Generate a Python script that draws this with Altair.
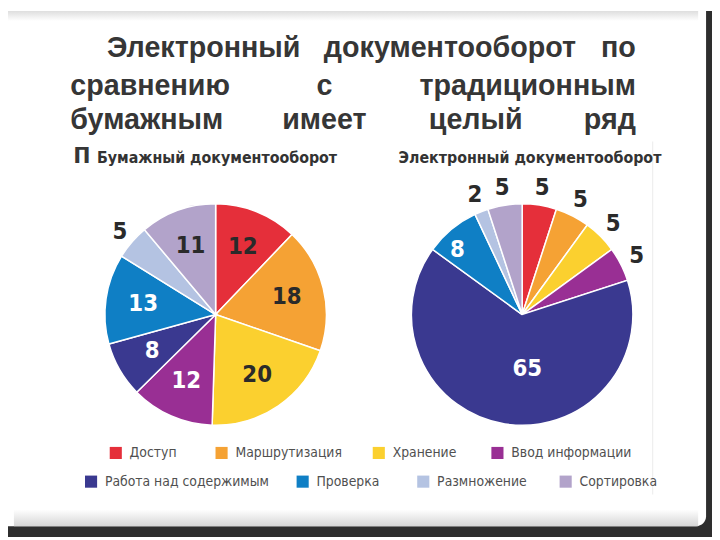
import altair as alt
import pandas as pd

# ---------------- data ----------------
categories = ["Доступ", "Маршрутизация", "Хранение", "Ввод информации",
              "Работа над содержимым", "Проверка", "Размножение", "Сортировка"]
paper_values = [12, 18, 20, 12, 8, 13, 5, 11]
electronic_values = [5, 5, 5, 5, 65, 8, 2, 5]
colors = ["#e52f3a", "#f5a234", "#fbd02f", "#992f94",
          "#3a3990", "#0f7fc5", "#b4c3e2", "#b2a3ca"]
pie_names = ["Бумажный документооборот", "Электронный документооборот"]
title_lines = [
    ["Электронный", "документооборот", "по"],
    ["сравнению", "с", "традиционным"],
    ["бумажным", "имеет", "целый", "ряд"],
    ["п"],
]

rows = []
for i, c in enumerate(categories):
    rows.append({"pie": pie_names[0], "cat": c, "order": i, "value": paper_values[i]})
    rows.append({"pie": pie_names[1], "cat": c, "order": i, "value": electronic_values[i]})
df = pd.DataFrame(rows)
leg_df = pd.DataFrame({"cat": categories})
one = pd.DataFrame({"a": [0]})

# ---------------- layout helpers ----------------
OX, OY = 8, 8
def px(x):
    return x - OX
def py(y):
    return y - OY

NARROW = "Liberation Sans Narrow, DejaVu Sans Condensed, sans-serif"
SANS = "Liberation Sans, Arial, sans-serif"
color_scale = alt.Scale(domain=categories, range=colors)

layers = []

# slide background / frame
layers.append(alt.Chart(one).mark_rect(color="#2e2e2e").encode(
    x=alt.value(0), x2=alt.value(712), y=alt.value(0), y2=alt.value(532)))
layers.append(alt.Chart(one).mark_rect(color="#ffffff", cornerRadius=10).encode(
    x=alt.value(-20), x2=alt.value(px(714)), y=alt.value(-20), y2=alt.value(py(529))))
layers.append(alt.Chart(one).mark_rect(color={
    "gradient": "linear", "x1": 0, "y1": 0, "x2": 0, "y2": 1,
    "stops": [{"offset": 0, "color": "#dedede"}, {"offset": 1, "color": "#ffffff"}]}).encode(
    x=alt.value(0), x2=alt.value(px(706)), y=alt.value(0), y2=alt.value(10)))
layers.append(alt.Chart(one).mark_rect(color={
    "gradient": "linear", "x1": 0, "y1": 0, "x2": 0, "y2": 1,
    "stops": [{"offset": 0, "color": "#ffffff"}, {"offset": 1, "color": "#d6d6d6"}]}).encode(
    x=alt.value(px(14)), x2=alt.value(px(706)), y=alt.value(py(512)), y2=alt.value(py(529))))

# title words (justified text)
title_pos = [
    [(108, "left"), (455, "center"), (643, "right")],
    [(71, "left"), (328, "center"), (643, "right")],
    [(71, "left"), (328, "center"), (481, "center"), (643, "right")],
    [(74, "left")],
]
title_base = [55, 93, 127, 162]
for li, words in enumerate(title_lines):
    for wi, w in enumerate(words):
        xpos, al = title_pos[li][wi]
        layers.append(alt.Chart(one).mark_text(
            font=SANS, fontSize=29, fontWeight="bold", color="#363636",
            align=al, baseline="alphabetic").encode(
            x=alt.value(px(xpos)), y=alt.value(py(title_base[li])), text=alt.value(w)))

# image region (covers the rest of the 4th line)
layers.append(alt.Chart(one).mark_rect(color="#ffffff").encode(
    x=alt.value(px(92)), x2=alt.value(px(660)), y=alt.value(py(140)), y2=alt.value(py(497))))
layers.append(alt.Chart(one).mark_rule(color="#ebebeb", strokeWidth=1).encode(
    x=alt.value(px(660)), y=alt.value(py(140)), y2=alt.value(py(497))))

# subtitles
sub_pos = [(98, 157), (403, 157)]
for n, (sx, sy) in zip(pie_names, sub_pos):
    layers.append(alt.Chart(one).mark_text(
        font=NARROW, fontSize=16, fontWeight="bold", color="#333333",
        align="left", baseline="middle").encode(
        x=alt.value(px(sx)), y=alt.value(py(sy)), text=alt.value(n)))

# pies
R = 112
centers = {pie_names[0]: (218, 315), pie_names[1]: (528, 315)}
label_sets = {
    pie_names[0]: [
        (["Доступ", "Маршрутизация", "Хранение", "Сортировка"], 74, "#2a2a2a", 0),
        (["Ввод информации", "Работа над содержимым", "Проверка"], 74, "#ffffff", 0),
        (["Размножение"], 128, "#2a2a2a", 0),
    ],
    pie_names[1]: [
        (["Доступ", "Маршрутизация", "Хранение", "Ввод информации", "Размножение", "Сортировка"], 130, "#2a2a2a", 0),
        (["Проверка"], 84, "#ffffff", -12),
        (["Работа над содержимым"], 56, "#ffffff", 14),
    ],
}
for name in pie_names:
    cx, cy = centers[name]
    base = (alt.Chart(df)
            .transform_filter(alt.datum.pie == name)
            .transform_joinaggregate(total="sum(value)")
            .transform_window(cum="sum(value)", sort=[alt.SortField("order")])
            .transform_calculate(
                t0="(datum.cum - datum.value) / datum.total * 2 * PI",
                t1="datum.cum / datum.total * 2 * PI",
                tm="(datum.cum - datum.value / 2) / datum.total * 2 * PI"))
    layers.append(base.mark_arc(radius=R, stroke="#ffffff", strokeWidth=1.5).encode(
        x=alt.value(px(cx)), y=alt.value(py(cy)),
        theta=alt.Theta("t0:Q", scale=None), theta2=alt.Theta2("t1:Q"),
        color=alt.Color("cat:N", scale=color_scale, legend=None)))
    for cats, r, fill, ddx in label_sets[name]:
        layers.append(base.transform_filter(
            alt.FieldOneOfPredicate(field="cat", oneOf=cats)).mark_text(
            radius=r, font=NARROW, fontSize=24, fontWeight="bold", color=fill,
            align="center", baseline="middle", dx=ddx).encode(
            x=alt.value(px(cx)), y=alt.value(py(cy)),
            theta=alt.Theta("tm:Q", scale=None), text=alt.Text("value:Q")))

# legend
leg_pos = [(117, 455), (224, 455), (383, 455), (503, 455),
           (92, 484), (306, 484), (428, 484), (572, 484)]
for c, (lx, ly) in zip(categories, leg_pos):
    lb = alt.Chart(leg_df).transform_filter(alt.datum.cat == c)
    layers.append(lb.mark_square(size=150, opacity=1).encode(
        x=alt.value(px(lx)), y=alt.value(py(ly)),
        color=alt.Color("cat:N", scale=color_scale, legend=None)))
    layers.append(lb.mark_text(font=NARROW, fontSize=14, color="#505050",
                               align="left", baseline="middle").encode(
        x=alt.value(px(lx + 14)), y=alt.value(py(ly)), text="cat:N"))

chart = alt.layer(*layers).properties(
    width=712, height=532, padding=0,
    autosize=alt.AutoSizeParams(type="none"),
).configure_view(stroke=None)

chart.save("out.html", embed_options={"renderer": "svg", "actions": False})
